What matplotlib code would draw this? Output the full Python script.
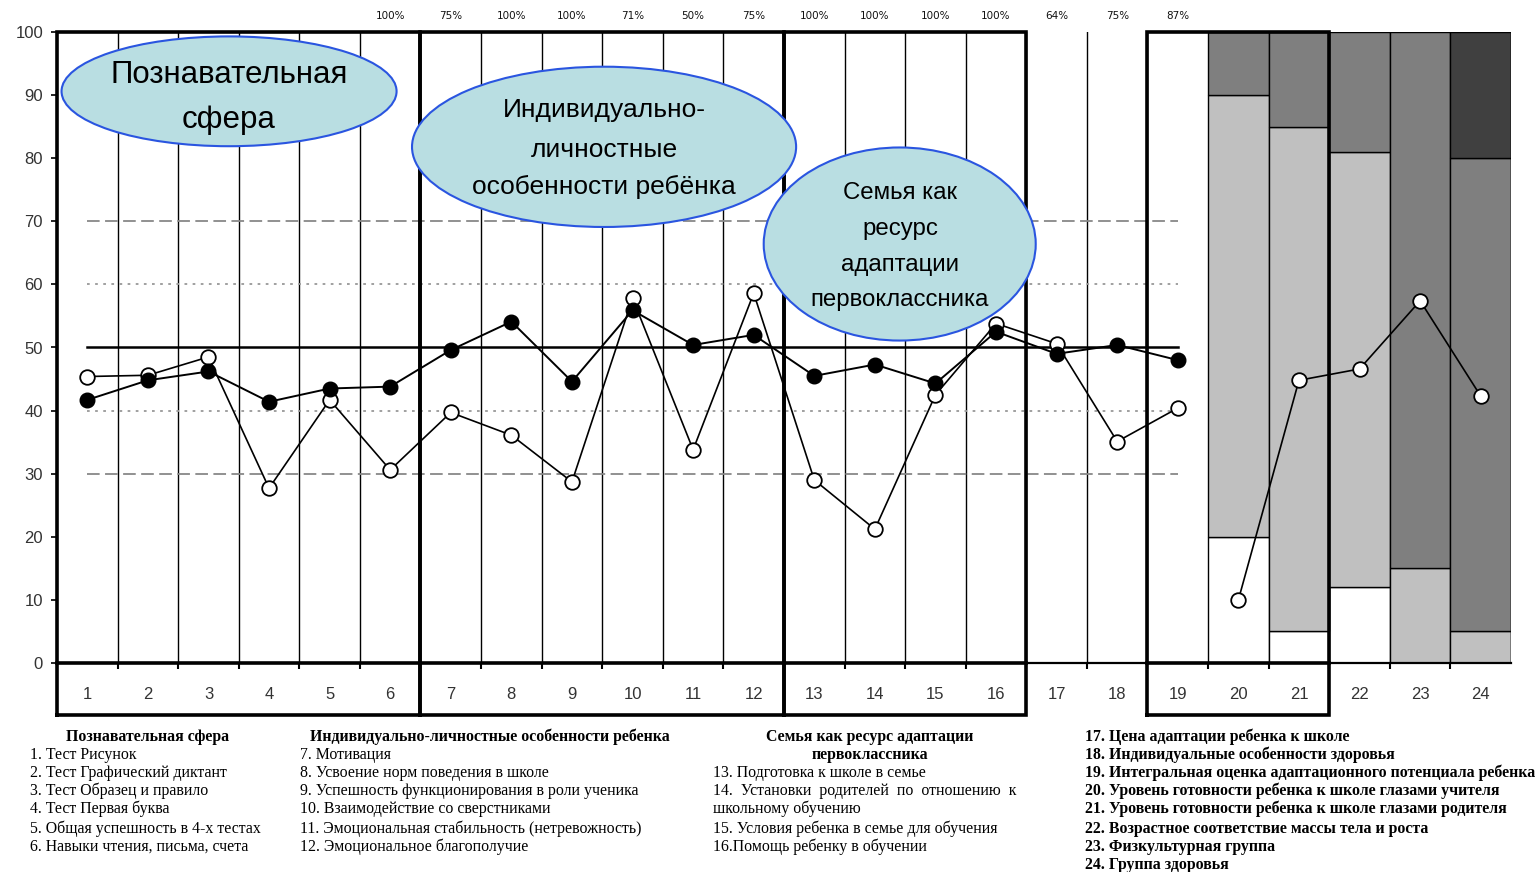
import matplotlib
matplotlib.use("Agg")
import matplotlib.pyplot as plt
from matplotlib.patches import Ellipse

# ---------------- data ----------------
categories = list(range(1, 25))
filled_cats = list(range(1, 20))
filled_values = [41.7, 44.8, 46.2, 41.4, 43.5, 43.8, 49.6, 54.1, 44.6, 55.9,
                 50.4, 52.0, 45.5, 47.3, 44.3, 52.5, 49.0, 50.4, 48.0]
open_cats_a = list(range(1, 20))
open_values_a = [45.4, 45.6, 48.5, 27.7, 41.7, 30.6, 39.7, 36.1, 28.7, 57.8,
                 33.8, 58.6, 29.0, 21.2, 42.5, 53.8, 50.6, 35.1, 40.4]
open_cats_b = [20, 21, 22, 23, 24]
open_values_b = [10.0, 44.8, 46.6, 57.4, 42.3]

percent_cats = list(range(6, 20))
percent_labels = ["100%", "75%", "100%", "100%", "71%", "50%", "75%",
                  "100%", "100%", "100%", "100%", "64%", "75%", "87%"]

bar_cats = [20, 21, 22, 23, 24]
bar_white = [20, 5, 12, 0, 0]
bar_light = [70, 80, 69, 15, 5]
bar_mid = [10, 15, 19, 85, 75]
bar_dark = [0, 0, 0, 0, 20]

ref_solid = [50]
ref_dashed = [30, 70]
ref_dotted = [40, 60]

bubble_texts = [
    ["Познавательная", "сфера"],
    ["Индивидуально-", "личностные", "особенности ребёнка"],
    ["Семья как", "ресурс", "адаптации", "первоклассника"],
]

legend_col1_head = "Познавательная сфера"
legend_col1 = ["1. Тест Рисунок", "2. Тест Графический диктант", "3. Тест Образец и правило",
               "4. Тест Первая буква", "5. Общая успешность в 4-х тестах",
               "6. Навыки чтения, письма, счета"]
legend_col2_head = "Индивидуально-личностные особенности ребенка"
legend_col2 = ["7. Мотивация", "8. Усвоение норм поведения в школе",
               "9. Успешность функционирования в роли ученика",
               "10. Взаимодействие со сверстниками",
               "11. Эмоциональная стабильность (нетревожность)",
               "12. Эмоциональное благополучие"]
legend_col3_head = ["Семья как ресурс адаптации", "первоклассника"]
legend_col3 = ["13. Подготовка к школе в семье",
               "14.  Установки  родителей  по  отношению  к",
               "школьному обучению",
               "15. Условия ребенка в семье для обучения",
               "16.Помощь ребенку в обучении"]
legend_col4 = ["17. Цена адаптации ребенка к школе",
               "18. Индивидуальные особенности здоровья",
               "19. Интегральная оценка адаптационного потенциала ребенка",
               "20. Уровень готовности ребенка к школе глазами учителя",
               "21. Уровень готовности ребенка к школе глазами родителя",
               "22. Возрастное соответствие массы тела и роста",
               "23. Физкультурная группа",
               "24. Группа здоровья"]

# ---------------- figure ----------------
W, H = 1540, 872
fig = plt.figure(figsize=(W / 100, H / 100), dpi=100)
fig.patch.set_facecolor("white")


def fx(x):
    return x / W


def fy(y):
    return 1 - y / H


ax = fig.add_axes([fx(57), fy(663), fx(1511) - fx(57), fy(32) - fy(663)])
ax.set_xlim(0.5, 24.5)
ax.set_ylim(0, 100)
for s in ax.spines.values():
    s.set_visible(False)

LOW = -8.2
THICK = 2.6
THIN = 1.0

# stacked bars
b0 = [0] * 5
b1 = [a + b for a, b in zip(b0, bar_white)]
b2 = [a + b for a, b in zip(b1, bar_light)]
b3 = [a + b for a, b in zip(b2, bar_mid)]
for vals, bot, col in [(bar_white, b0, "white"), (bar_light, b1, "#c0c0c0"),
                       (bar_mid, b2, "#7f7f7f"), (bar_dark, b3, "#404040")]:
    cats = [c for c, v in zip(bar_cats, vals) if v > 0]
    vv = [v for v in vals if v > 0]
    bb = [b for b, v in zip(bot, vals) if v > 0]
    ax.bar(cats, vv, bottom=bb, width=1.0, color=col, edgecolor="black",
           linewidth=THIN, zorder=1)

# thin vertical grid lines
for xb in [i + 0.5 for i in range(1, 19)]:
    ax.plot([xb, xb], [0, 100], color="black", lw=THIN, zorder=2)
ax.plot([24.5, 24.5], [0, 100], color="black", lw=THIN, zorder=2)

# thin axis parts
ax.plot([16.5, 18.5], [0, 0], color="black", lw=1.6, zorder=3, clip_on=False)
ax.plot([21.5, 24.5], [0, 0], color="black", lw=1.6, zorder=3, clip_on=False)

# thick boxes
for (x0, x1) in [(0.5, 6.5), (6.5, 12.5), (12.5, 16.5), (18.5, 21.5)]:
    ax.plot([x0, x1, x1, x0, x0], [LOW, LOW, 100, 100, LOW], color="black",
            lw=THICK, zorder=6, clip_on=False, solid_joinstyle="miter")
    ax.plot([x0, x1], [0, 0], color="black", lw=THICK, zorder=6, clip_on=False)

# reference lines
for y in ref_solid:
    ax.plot([1, 19], [y, y], color="black", lw=1.8, zorder=3)
for y in ref_dashed:
    ax.plot([1, 19], [y, y], color="#888888", lw=1.3, ls=(0, (7, 3)), zorder=3)
for y in ref_dotted:
    ax.plot([1, 19], [y, y], color="#999999", lw=1.3, ls=(0, (1.5, 3)), zorder=3)

# series
ax.plot(open_cats_a, open_values_a, color="black", lw=1.2, marker="o", ms=10.5,
        mfc="white", mec="black", mew=1.3, zorder=7)
ax.plot(open_cats_b, open_values_b, color="black", lw=1.2, marker="o", ms=10.5,
        mfc="white", mec="black", mew=1.3, zorder=7)
ax.plot(filled_cats, filled_values, color="black", lw=1.4, marker="o", ms=10.5,
        mfc="black", mec="black", zorder=8)

# ticks
ax.set_xticks(categories)
ax.set_xticklabels([str(c) for c in categories], fontsize=12, color="#333333",
                   family="Liberation Sans")
ax.tick_params(axis="x", which="major", length=0, pad=17)
ax.set_xticks([i + 0.5 for i in range(1, 24)], minor=True)
ax.tick_params(axis="x", which="minor", length=4, width=1.5, direction="out")
ax.set_yticks(range(0, 101, 10))
ax.set_yticklabels([str(v) for v in range(0, 101, 10)], fontsize=12,
                   color="#333333", family="Liberation Sans")
ax.tick_params(axis="y", length=4, width=1.2, pad=6)

# percent labels
for c, t in zip(percent_cats, percent_labels):
    ax.text(c, 102.5, t, ha="center", va="center", fontsize=7.5,
            color="#111111", clip_on=False)

# bubbles (ellipses in data coords)
ell_specs = [(3.34, 90.6, 5.53, 17.4), (9.53, 81.8, 6.34, 25.4), (14.41, 66.4, 4.49, 30.6)]
for (cx, cy, w, h) in ell_specs:
    ax.add_patch(Ellipse((cx, cy), w, h, facecolor="#b9dee2", edgecolor="#2a55e0",
                         lw=1.5, zorder=9))

bubble_pos = [
    (229, [75, 120], 22.5),
    (604, [110, 150, 187], 19),
    (900, [193, 229, 265, 300], 17.3),
]
for (x, ys, fs), lines in zip(bubble_pos, bubble_texts):
    for y, t in zip(ys, lines):
        fig.text(fx(x), fy(y), t, ha="center", va="center", fontsize=fs,
                 family="Liberation Sans", color="black", zorder=10)

# legend text under chart
SER = "Liberation Serif"
LFS = 11.4
line_ys = [755, 773, 791, 809, 829, 847]
fig.text(fx(148), fy(737), legend_col1_head, ha="center", va="center",
         fontsize=LFS, family=SER, weight="bold")
for y, t in zip(line_ys, legend_col1):
    fig.text(fx(30), fy(y), t, ha="left", va="center", fontsize=LFS, family=SER)
fig.text(fx(490), fy(737), legend_col2_head, ha="center", va="center",
         fontsize=LFS, family=SER, weight="bold")
for y, t in zip(line_ys, legend_col2):
    fig.text(fx(300), fy(y), t, ha="left", va="center", fontsize=LFS, family=SER)
for y, t in zip([737, 755], legend_col3_head):
    fig.text(fx(870), fy(y), t, ha="center", va="center", fontsize=LFS,
             family=SER, weight="bold")
for y, t in zip([773, 791, 809, 829, 847], legend_col3):
    fig.text(fx(713), fy(y), t, ha="left", va="center", fontsize=LFS, family=SER)
for y, t in zip([737, 755, 773, 791, 809, 829, 847, 865], legend_col4):
    fig.text(fx(1085), fy(y), t, ha="left", va="center", fontsize=LFS,
             family=SER, weight="bold")

fig.savefig("out.png", dpi=100, facecolor="white")
